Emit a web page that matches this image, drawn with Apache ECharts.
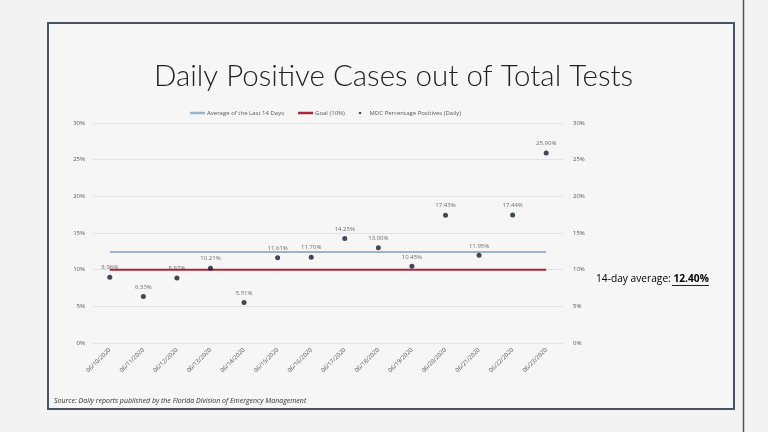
<!DOCTYPE html>
<html>
<head>
<meta charset="utf-8">
<title>Daily Positive Cases out of Total Tests</title>
<script src="https://cdn.jsdelivr.net/npm/echarts@6/dist/echarts.min.js"></script>
<style>
html,body{margin:0;padding:0;background:#f3f3f3;}
#chart{width:768px;height:432px;}
</style>
</head>
<body>
<div id="chart"></div>
<script>
var dates=["06/10/2020","06/11/2020","06/12/2020","06/13/2020","06/14/2020","06/15/2020","06/16/2020","06/17/2020","06/18/2020","06/19/2020","06/20/2020","06/21/2020","06/22/2020","06/23/2020"];
var positives=[8.96,6.33,8.87,10.21,5.51,11.61,11.70,14.25,13.00,10.45,17.43,11.95,17.44,25.90];
var average14=12.40;
var goal=10;
var yTicks={min:0,max:30,interval:5};

function JFill(v){
	var r=[];
	for(var i=0;i<dates.length;i++){
		r[r.length]=v;
	}
	return r;
}
function JAxis(pos){
	return {
		type:"value",
		position:pos,
		min:yTicks.min,
		max:yTicks.max,
		interval:yTicks.interval,
		axisLine:{show:false},
		axisTick:{show:false},
		splitLine:{show:pos=="left",lineStyle:{color:"#e2e2e2",width:1}},
		axisLabel:{
			formatter:"{value}%",
			fontSize:6,
			color:"#595959",
			fontFamily:"Open Sans",
			margin:pos=="left"?8:10
		}
	};
}
var chart=echarts.init(document.getElementById("chart"));
var opt={
	backgroundColor:"#f3f3f3",
	animation:false,
	title:{
		text:"Daily Positive Cases out of Total Tests",
		left:149,
		top:56,
		textStyle:{fontFamily:"Lato",fontWeight:300,fontSize:29.5,color:"#222222"}
	},
	legend:{
		left:185,
		top:105,
		itemWidth:15,
		itemHeight:2.5,
		itemGap:14,
		textStyle:{fontSize:6,color:"#595959",fontFamily:"Open Sans",padding:[0,0,0,-3]},
		data:[
			{name:"Average of the Last 14 Days",icon:"rect"},
			{name:"Goal (10%)",icon:"rect"},
			{name:"MDC Percentage Positives (Daily)",icon:"circle"}
		]
	},
	grid:{left:93,right:205,top:123,bottom:89},
	xAxis:{
		type:"category",
		data:dates,
		boundaryGap:true,
		axisLine:{show:false},
		axisTick:{show:false},
		axisLabel:{rotate:45,fontSize:6,color:"#595959",fontFamily:"Open Sans",margin:6,interval:0}
	},
	yAxis:[JAxis("left"),JAxis("right")],
	series:[
		{
			name:"Average of the Last 14 Days",
			type:"line",
			data:JFill(average14),
			symbol:"none",
			lineStyle:{color:"#9fb4cb",width:2},
			itemStyle:{color:"#9fb4cb"},
			z:2
		},
		{
			name:"Goal (10%)",
			type:"line",
			data:JFill(goal),
			symbol:"none",
			lineStyle:{color:"#a8283a",width:2},
			itemStyle:{color:"#a8283a"},
			z:2
		},
		{
			name:"MDC Percentage Positives (Daily)",
			type:"scatter",
			data:positives,
			symbolSize:5,
			itemStyle:{color:"#141c30"},
			label:{
				show:true,
				position:"top",
				distance:4,
				fontSize:6,
				color:"#4a4a4a",
				fontFamily:"Open Sans",
				formatter:function(p){
					return p.value.toFixed(2)+"%";
				}
			},
			z:3
		}
	],
	graphic:[
		{
			type:"rect",
			shape:{x:48,y:23,width:686,height:386},
			style:{fill:"#f6f6f6",stroke:"#4b5365",lineWidth:2},
			z:-10
		},
		{
			type:"line",
			shape:{x1:743.5,y1:0,x2:743.5,y2:432},
			style:{stroke:"#555555",lineWidth:1.5},
			z:-10
		},
		{
			type:"text",
			left:54,
			top:397,
			style:{
				text:"Source: Daily reports published by the Florida Division of Emergency Management",
				font:"italic 7px 'Open Sans'",
				fill:"#333333"
			}
		},
		{
			type:"text",
			left:596,
			top:274,
			style:{
				text:"{a|14-day average: }{b|12.40%}",
				rich:{
					a:{fontSize:10.2,fontFamily:"Open Sans",color:"#333333"},
					b:{fontSize:10.2,fontFamily:"Open Sans",fontWeight:"bold",color:"#222222"}
				}
			}
		},
		{
			type:"line",
			shape:{x1:672,y1:285.5,x2:709,y2:285.5},
			style:{stroke:"#222222",lineWidth:1}
		}
	]
};
chart.setOption(opt);
</script>
</body>
</html>
